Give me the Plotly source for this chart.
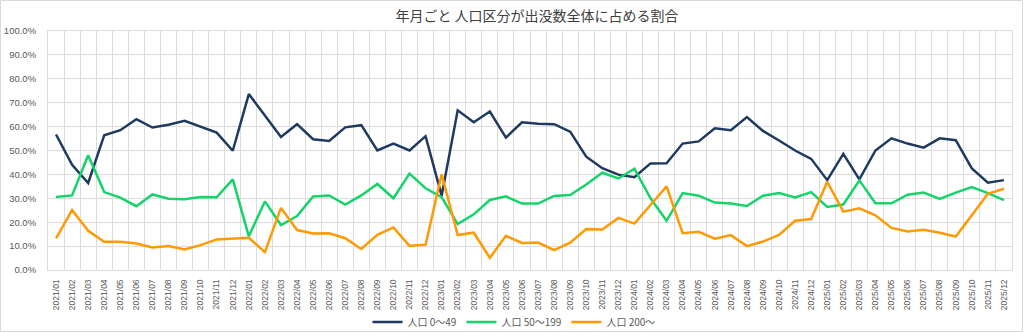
import plotly.graph_objects as go

months = [f"{y}/{m:02d}" for y in range(2021, 2026) for m in range(1, 13)]

pop_0_49 = [56.7, 44.0, 36.4, 56.4, 58.5, 63.1, 59.6, 60.8, 62.4, 59.9, 57.5, 49.9,
            73.6, 64.6, 55.7, 61.0, 54.7, 54.0, 59.7, 60.6, 50.0, 52.9, 50.0, 56.0,
            31.1, 66.8, 61.8, 66.3, 55.4, 61.8, 61.2, 61.0, 57.9, 47.4, 42.6, 39.9,
            38.8, 44.6, 44.7, 52.9, 53.8, 59.3, 58.5, 64.0, 58.2, 54.2, 50.0, 46.5,
            37.6, 48.6, 37.9, 50.0, 55.1, 52.9, 51.2, 55.1, 54.3, 42.5, 36.5, 37.6]

pop_50_199 = [30.5, 31.2, 48.0, 32.6, 30.3, 26.7, 31.6, 29.8, 29.6, 30.5, 30.4, 37.9,
              14.1, 28.7, 18.8, 22.6, 30.8, 31.2, 27.4, 31.2, 36.0, 30.0, 40.3, 34.2,
              30.5, 19.2, 23.3, 29.3, 30.8, 27.8, 27.8, 31.0, 31.4, 35.8, 40.7, 38.3,
              42.4, 30.0, 20.6, 32.2, 31.1, 28.2, 27.8, 26.8, 31.1, 32.2, 30.4, 32.6,
              26.4, 27.4, 37.5, 27.9, 27.9, 31.5, 32.4, 29.7, 32.4, 34.7, 32.2, 29.2]

pop_200 = [13.2, 25.1, 16.4, 11.8, 11.8, 11.1, 9.4, 10.0, 8.6, 10.4, 12.8, 13.2,
           13.5, 7.5, 26.0, 16.7, 15.3, 15.4, 13.3, 8.8, 14.7, 17.8, 10.1, 10.6,
           40.0, 14.6, 15.6, 5.1, 14.3, 11.3, 11.5, 8.3, 11.4, 17.1, 16.9, 21.8,
           19.4, 27.2, 35.0, 15.4, 16.0, 13.1, 14.6, 10.0, 11.9, 14.7, 20.6, 21.3,
           36.9, 24.4, 25.8, 22.9, 17.6, 16.1, 16.8, 15.6, 14.0, 22.9, 31.9, 34.0]

series_names = ["人口 0〜49", "人口 50〜199", "人口 200〜"]
series_values = [pop_0_49, pop_50_199, pop_200]
colors = ["#1F3A60", "#14D46A", "#FF9A05"]

W, H = 1024, 333
ML, MR, MT, MB = 48, 12, 31, 63

fig = go.Figure()
for name, vals, c in zip(series_names, series_values, colors):
    fig.add_trace(go.Scatter(x=months, y=vals, name=name, mode="lines",
                             line=dict(color=c, width=2.5)))

grid = "#DCDCDC"
ytickfont = dict(family="Liberation Sans, Arial, sans-serif", size=9.5, color="#595959")
xtickfont = dict(family="Liberation Sans, Arial, sans-serif", size=8.5, color="#595959")

fig.update_layout(
    width=W, height=H,
    margin=dict(l=ML, r=MR, t=MT, b=MB, autoexpand=False),
    paper_bgcolor="white", plot_bgcolor="white",
    title=dict(text="年月ごと 人口区分が出没数全体に占める割合",
               font=dict(family="Noto Sans CJK JP", size=14, color="#404040"),
               x=537 / W, xanchor="center", xref="container",
               y=1 - 16.5 / H, yanchor="middle", yref="container"),
    legend=dict(orientation="h", xref="container", yref="container",
                x=514 / W, xanchor="center", y=1 - 322 / H, yanchor="middle",
                font=dict(family="Noto Sans CJK JP", size=10, color="#595959"),
                itemwidth=30, tracegroupgap=0, bgcolor="rgba(0,0,0,0)"),
    showlegend=True,
    xaxis=dict(type="category", tickson="boundaries", showgrid=True, gridcolor=grid,
               gridwidth=1, tickangle=-90, tickfont=xtickfont, ticks="",
               range=[-0.5, len(months) - 0.5],
               showline=True, linecolor=grid, mirror=True, ticklen=0,
               automargin=False, ticklabelstandoff=5),
    yaxis=dict(range=[0, 100], dtick=10, tickformat=".1f", ticksuffix="%",
               showgrid=True, gridcolor=grid, tickfont=ytickfont, zeroline=False,
               showline=True, linecolor=grid, mirror=True, ticks="",
               ticklabelstandoff=9, automargin=False),
)

pw, ph = W - ML - MR, H - MT - MB
fig.add_shape(type="rect", xref="paper", yref="paper",
              x0=(-ML + 0.5) / pw, x1=(pw + MR - 1.5) / pw,
              y0=(-MB + 1.5) / ph, y1=(ph + MT - 0.5) / ph,
              line=dict(color="#D9D9D9", width=1), layer="below")

fig.write_html("out.html")
